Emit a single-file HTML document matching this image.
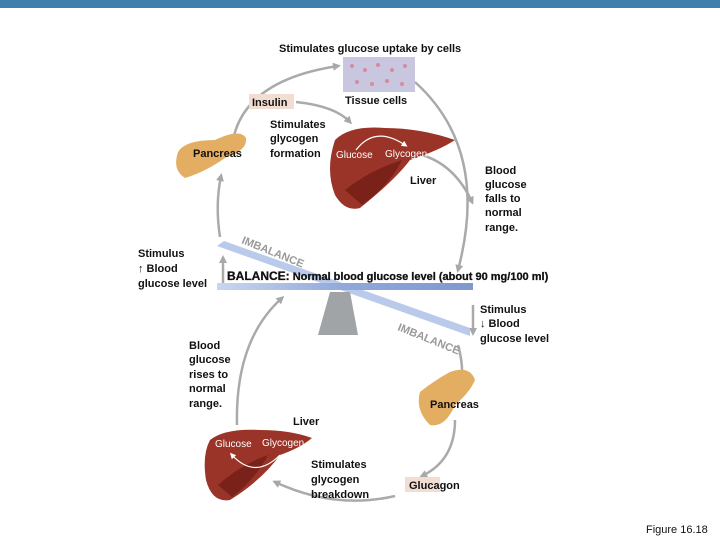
<!DOCTYPE html>
<html><head><style>
body{margin:0;background:#fff;}
svg{display:block;font-family:"Liberation Sans",sans-serif;}
.t{font-size:11px;fill:#111;}
.b{font-weight:bold;}
</style></head><body>
<svg width="720" height="540" viewBox="0 0 720 540">
<defs>
<marker id="ah" markerWidth="8" markerHeight="8" refX="5" refY="4" orient="auto" markerUnits="userSpaceOnUse"><path d="M0,0 L8,4 L0,8 Z" fill="#a8a8a8"/></marker>
<marker id="wh" markerWidth="6" markerHeight="6" refX="3" refY="3" orient="auto" markerUnits="userSpaceOnUse"><path d="M0,0 L6,3 L0,6 Z" fill="#fff"/></marker>
<linearGradient id="bar" x1="0" x2="1"><stop offset="0" stop-color="#c9d6ef"/><stop offset="0.5" stop-color="#90a8da"/><stop offset="1" stop-color="#7f98cf"/></linearGradient>
</defs>
<rect x="0" y="0" width="720" height="8" fill="#3f7fae"/>
<g fill="none" stroke="#aaa" stroke-width="2.5">
<path d="M233 140 Q245 80 338 66" marker-end="url(#ah)"/>
<path d="M415 82 Q490 150 458 270" marker-end="url(#ah)"/>
<path d="M296 102 Q335 106 350 122" marker-end="url(#ah)"/>
<path d="M422 155 Q455 165 472 202" marker-end="url(#ah)"/>
<path d="M220 237 Q215 205 221 176" marker-end="url(#ah)"/>
<path d="M223 290 L223 258" marker-end="url(#ah)"/>
<path d="M237 425 Q235 340 282 298" marker-end="url(#ah)"/>
<path d="M473 305 L473 333" marker-end="url(#ah)"/>
<path d="M458 345 Q465 370 460 388" marker-end="url(#ah)"/>
<path d="M455 420 Q455 460 422 476" marker-end="url(#ah)"/>
<path d="M395 496 Q335 510 275 482" marker-end="url(#ah)"/>
</g>
<text class="t b" x="279" y="52">Stimulates glucose uptake by cells</text>
<rect x="343" y="57" width="72" height="35" fill="#c9c7e0"/>
<g fill="#d88aa0"><circle cx="352" cy="66" r="2"/><circle cx="365" cy="70" r="2"/><circle cx="378" cy="65" r="2"/><circle cx="392" cy="70" r="2"/><circle cx="405" cy="66" r="2"/><circle cx="357" cy="82" r="2"/><circle cx="372" cy="84" r="2"/><circle cx="387" cy="81" r="2"/><circle cx="402" cy="84" r="2"/></g>
<text class="t b" x="345" y="104">Tissue cells</text>
<rect x="249" y="94" width="45" height="15" fill="#f2ddd2"/>
<text class="t b" x="252" y="106">Insulin</text>
<path d="M178 152 Q185 140 215 140 Q240 128 246 138 Q248 150 225 158 Q205 172 185 178 Q172 170 178 152Z" fill="#e3ad62"/>
<text class="t b" x="193" y="157">Pancreas</text>
<text class="t b" x="270" y="128">Stimulates</text>
<text class="t b" x="270" y="142">glycogen</text>
<text class="t b" x="270" y="157">formation</text>
<path d="M335 140 Q350 125 385 128 Q420 128 455 140 Q440 150 410 160 Q395 180 360 208 Q345 212 335 195 Q325 170 335 140Z" fill="#9a3428"/>
<path d="M345 190 Q370 170 402 160 Q390 185 362 205Z" fill="#7a2219"/>
<path d="M356 150 Q375 125 405 145" fill="none" stroke="#fff" stroke-width="1.2" marker-end="url(#wh)"/>
<text x="336" y="158" font-size="10" fill="#fff">Glucose</text>
<text x="385" y="157" font-size="10" fill="#fff">Glycogen</text>
<text class="t b" x="410" y="184">Liver</text>
<g class="t b"><text x="485" y="174">Blood</text><text x="485" y="188">glucose</text><text x="485" y="202">falls to</text><text x="485" y="216">normal</text><text x="485" y="231">range.</text></g>
<polygon points="217,246 224,241 470,328 470,336" fill="#a9bde6" opacity="0.8"/>
<polygon points="318,335 330,292 350,292 358,335" fill="#a0a4a6"/>
<rect x="217" y="283" width="256" height="7" fill="url(#bar)"/>
<text x="241" y="243" font-size="11" font-weight="bold" fill="#999" transform="rotate(22 241 243)">IMBALANCE</text>
<text x="397" y="330" font-size="11" font-weight="bold" fill="#999" transform="rotate(22 397 330)">IMBALANCE</text>
<text class="b" x="227" y="280" font-size="11" fill="#111" stroke="#111" stroke-width="0.3"><tspan font-size="12">BALANCE:</tspan> Normal blood glucose level (about 90 mg/100 ml)</text>
<g class="t b"><text x="138" y="257">Stimulus</text><text x="138" y="272">↑ Blood</text><text x="138" y="287">glucose level</text></g>
<g class="t b"><text x="480" y="313">Stimulus</text><text x="480" y="327">↓ Blood</text><text x="480" y="342">glucose level</text></g>
<g class="t b"><text x="189" y="349">Blood</text><text x="189" y="363">glucose</text><text x="189" y="378">rises to</text><text x="189" y="392">normal</text><text x="189" y="407">range.</text></g>
<path d="M420 392 Q435 380 450 372 Q470 365 475 380 Q470 392 455 405 Q445 428 430 425 Q415 410 420 392Z" fill="#e3ad62"/>
<text class="t b" x="430" y="408">Pancreas</text>
<text class="t b" x="293" y="425">Liver</text>
<path d="M210 440 Q225 428 260 430 Q290 430 312 438 Q300 448 280 455 Q262 480 230 500 Q212 503 206 480 Q202 455 210 440Z" fill="#9a3428"/>
<path d="M218 485 Q240 465 268 455 Q255 480 232 497Z" fill="#7a2219"/>
<path d="M280 455 Q255 480 232 455" fill="none" stroke="#fff" stroke-width="1.2" marker-end="url(#wh)"/>
<text x="215" y="447" font-size="10" fill="#fff">Glucose</text>
<text x="262" y="446" font-size="10" fill="#fff">Glycogen</text>
<g class="t b"><text x="311" y="468">Stimulates</text><text x="311" y="483">glycogen</text><text x="311" y="498">breakdown</text></g>
<rect x="405" y="477" width="35" height="15" fill="#f2ddd2"/>
<text class="t b" x="409" y="489">Glucagon</text>
<text x="646" y="533" font-size="11" fill="#111">Figure 16.18</text>
</svg>
</body></html>
